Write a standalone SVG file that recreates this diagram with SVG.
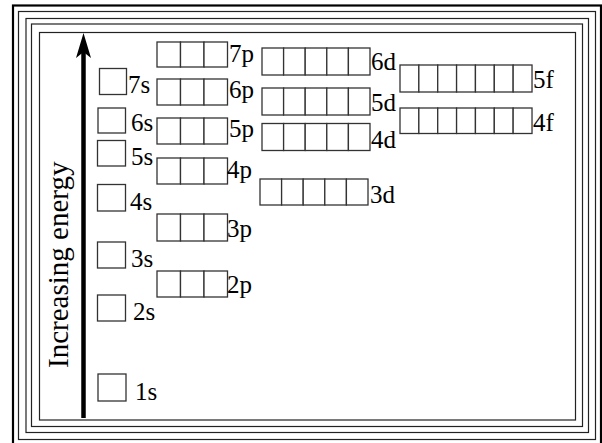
<svg xmlns="http://www.w3.org/2000/svg" width="602" height="443" viewBox="0 0 602 443">
<style>
.frame{fill:none;stroke:#222;stroke-width:1.2}
.cell{fill:#fff;stroke:#333;stroke-width:1.3}
</style>
<rect width="602" height="443" fill="#fff"/>
<g id="frame">
<rect x="13" y="5.5" width="588" height="445" fill="none" stroke="#000" stroke-width="2.2"/>
<rect class="frame" x="18.5" y="11.5" width="577" height="428" stroke="#666"/>
<rect class="frame" x="26" y="18.5" width="562.5" height="414"/>
<rect class="frame" x="31.5" y="24" width="551" height="402.5"/>
<rect class="frame" x="39.5" y="32.5" width="536" height="387.5"/>
</g>
<g id="connectors">
<line x1="83.5" y1="50" x2="83.5" y2="418" stroke="#000" stroke-width="4.5"/>
<polygon points="83.5,33 91,58 83.5,52 76,58" fill="#000"/>
</g>
<g id="axis-label">
<text style="font-family:'Liberation Serif',serif;font-size:29px" transform="translate(68,368) rotate(-90)">Increasing energy</text>
</g>
<g id="s7"><rect class="cell" x="99.5" y="68.5" width="27" height="26"/><text style="font-family:'Liberation Serif',serif;font-size:25px" x="128" y="93">7s</text></g>
<g id="s6"><rect class="cell" x="98" y="108" width="27.5" height="25"/><text style="font-family:'Liberation Serif',serif;font-size:25px" x="131" y="131">6s</text></g>
<g id="s5"><rect class="cell" x="97.5" y="140.5" width="28" height="25.5"/><text style="font-family:'Liberation Serif',serif;font-size:25px" x="131" y="165">5s</text></g>
<g id="s4"><rect class="cell" x="97.5" y="184.5" width="28" height="26.5"/><text style="font-family:'Liberation Serif',serif;font-size:25px" x="130" y="210">4s</text></g>
<g id="s3"><rect class="cell" x="97.5" y="242" width="28" height="26"/><text style="font-family:'Liberation Serif',serif;font-size:25px" x="131" y="267">3s</text></g>
<g id="s2"><rect class="cell" x="97.5" y="295" width="28" height="26"/><text style="font-family:'Liberation Serif',serif;font-size:25px" x="133" y="320">2s</text></g>
<g id="s1"><rect class="cell" x="98" y="374" width="28" height="27"/><text style="font-family:'Liberation Serif',serif;font-size:25px" x="135" y="400">1s</text></g>
<g id="p7"><rect class="cell" x="157" y="42" width="23.5" height="25"/><rect class="cell" x="180.5" y="42" width="23.5" height="25"/><rect class="cell" x="204" y="42" width="23.5" height="25"/><text style="font-family:'Liberation Serif',serif;font-size:25px" x="229" y="62">7p</text></g>
<g id="p6"><rect class="cell" x="157" y="79" width="23.5" height="26"/><rect class="cell" x="180.5" y="79" width="23.5" height="26"/><rect class="cell" x="204" y="79" width="23.5" height="26"/><text style="font-family:'Liberation Serif',serif;font-size:25px" x="229" y="98">6p</text></g>
<g id="p5"><rect class="cell" x="157" y="118" width="23.5" height="26"/><rect class="cell" x="180.5" y="118" width="23.5" height="26"/><rect class="cell" x="204" y="118" width="23.5" height="26"/><text style="font-family:'Liberation Serif',serif;font-size:25px" x="229" y="137">5p</text></g>
<g id="p4"><rect class="cell" x="157" y="158" width="23.5" height="26"/><rect class="cell" x="180.5" y="158" width="23.5" height="26"/><rect class="cell" x="204" y="158" width="23.5" height="26"/><text style="font-family:'Liberation Serif',serif;font-size:25px" x="227" y="178">4p</text></g>
<g id="p3"><rect class="cell" x="157" y="214" width="23.5" height="27"/><rect class="cell" x="180.5" y="214" width="23.5" height="27"/><rect class="cell" x="204" y="214" width="23.5" height="27"/><text style="font-family:'Liberation Serif',serif;font-size:25px" x="227" y="237">3p</text></g>
<g id="p2"><rect class="cell" x="157" y="271" width="23.5" height="26"/><rect class="cell" x="180.5" y="271" width="23.5" height="26"/><rect class="cell" x="204" y="271" width="23.5" height="26"/><text style="font-family:'Liberation Serif',serif;font-size:25px" x="227" y="293">2p</text></g>
<g id="d6"><rect class="cell" x="262" y="48" width="21.6" height="27"/><rect class="cell" x="283.6" y="48" width="21.6" height="27"/><rect class="cell" x="305.2" y="48" width="21.6" height="27"/><rect class="cell" x="326.8" y="48" width="21.6" height="27"/><rect class="cell" x="348.4" y="48" width="21.6" height="27"/><text style="font-family:'Liberation Serif',serif;font-size:25px" x="371" y="70">6d</text></g>
<g id="d5"><rect class="cell" x="262" y="88" width="21.6" height="27"/><rect class="cell" x="283.6" y="88" width="21.6" height="27"/><rect class="cell" x="305.2" y="88" width="21.6" height="27"/><rect class="cell" x="326.8" y="88" width="21.6" height="27"/><rect class="cell" x="348.4" y="88" width="21.6" height="27"/><text style="font-family:'Liberation Serif',serif;font-size:25px" x="371" y="111">5d</text></g>
<g id="d4"><rect class="cell" x="262" y="123.5" width="21.6" height="27"/><rect class="cell" x="283.6" y="123.5" width="21.6" height="27"/><rect class="cell" x="305.2" y="123.5" width="21.6" height="27"/><rect class="cell" x="326.8" y="123.5" width="21.6" height="27"/><rect class="cell" x="348.4" y="123.5" width="21.6" height="27"/><text style="font-family:'Liberation Serif',serif;font-size:25px" x="371" y="148">4d</text></g>
<g id="d3"><rect class="cell" x="260" y="179" width="21.6" height="26"/><rect class="cell" x="281.6" y="179" width="21.6" height="26"/><rect class="cell" x="303.2" y="179" width="21.6" height="26"/><rect class="cell" x="324.8" y="179" width="21.6" height="26"/><rect class="cell" x="346.4" y="179" width="21.6" height="26"/><text style="font-family:'Liberation Serif',serif;font-size:25px" x="370" y="203">3d</text></g>
<g id="f5"><rect class="cell" x="400" y="65" width="18.86" height="27"/><rect class="cell" x="418.86" y="65" width="18.86" height="27"/><rect class="cell" x="437.72" y="65" width="18.86" height="27"/><rect class="cell" x="456.58" y="65" width="18.86" height="27"/><rect class="cell" x="475.44" y="65" width="18.86" height="27"/><rect class="cell" x="494.3" y="65" width="18.86" height="27"/><rect class="cell" x="513.16" y="65" width="18.86" height="27"/><text style="font-family:'Liberation Serif',serif;font-size:25px" x="533" y="88">5f</text></g>
<g id="f4"><rect class="cell" x="400" y="108" width="18.86" height="25.5"/><rect class="cell" x="418.86" y="108" width="18.86" height="25.5"/><rect class="cell" x="437.72" y="108" width="18.86" height="25.5"/><rect class="cell" x="456.58" y="108" width="18.86" height="25.5"/><rect class="cell" x="475.44" y="108" width="18.86" height="25.5"/><rect class="cell" x="494.3" y="108" width="18.86" height="25.5"/><rect class="cell" x="513.16" y="108" width="18.86" height="25.5"/><text style="font-family:'Liberation Serif',serif;font-size:25px" x="533" y="131">4f</text></g>
</svg>
